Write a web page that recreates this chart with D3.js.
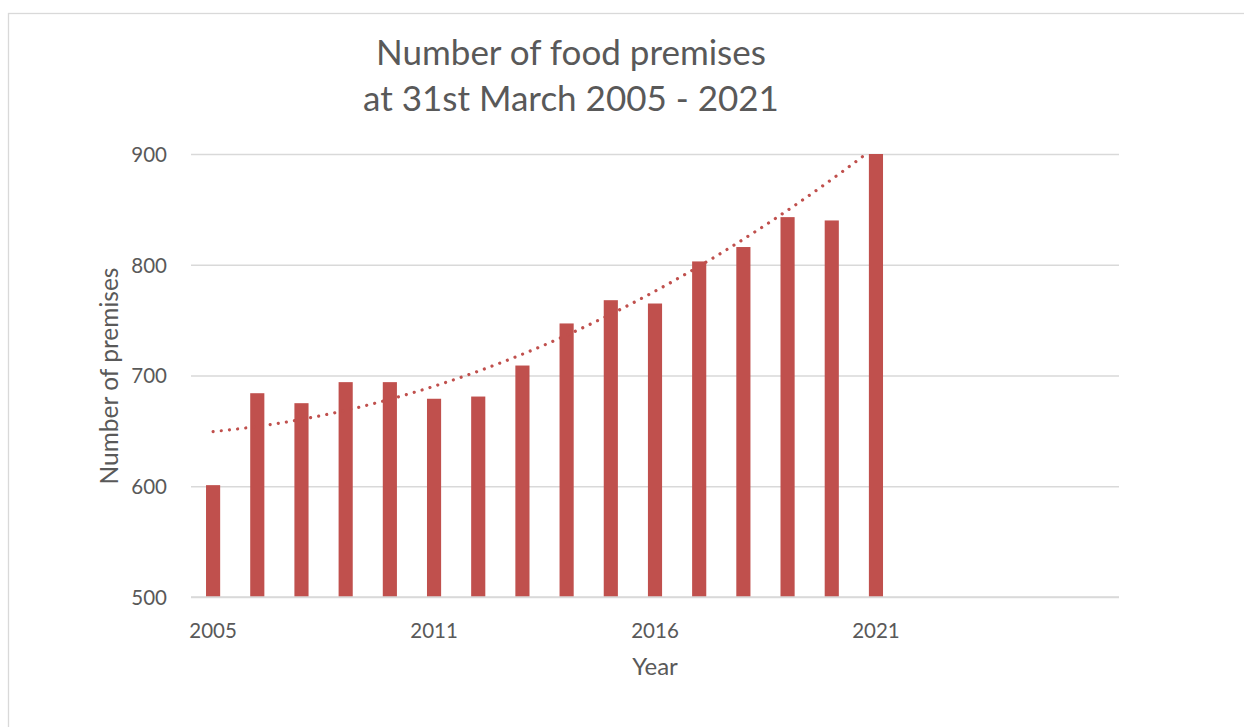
<!DOCTYPE html>
<html>
<head>
<meta charset="utf-8">
<script src="https://cdn.jsdelivr.net/npm/d3@7"></script>
<style>
  html, body { margin: 0; padding: 0; background: #fff; }
  svg { display: block; }
  text { font-family: Lato, "Open Sans", sans-serif; fill: #595959; }
</style>
</head>
<body>
<svg id="chart" width="1244" height="727"></svg>
<script>
// ---- data ----
const categories = ["2005","2006","2007","2008","2009","2011","2012","2013","2014","2015","2016","2017","2018","2019","2020","2021"];
const emptyCategories = ["e1","e2","e3","e4","e5"];
const premises = [601, 684, 675, 694, 694, 679, 681, 709, 747, 768, 765, 803, 816, 843, 840, 948];
const yTicks = [500, 600, 700, 800, 900];
const xTickLabels = ["2005", "2011", "2016", "2021"];
const titleLines = ["Number of food premises", "at 31st March 2005 - 2021"];

// ---- layout ----
const W = 1244, H = 727;
const plot = { left: 191, right: 1119, top: 154, bottom: 597 };
const barColor = "#C0504D";

const svg = d3.select("#chart");

// chart border (left/top visible, runs off the image right/bottom)
svg.append("rect")
  .attr("x", 8.5).attr("y", 13.5)
  .attr("width", W + 20).attr("height", H + 20)
  .attr("fill", "#fff").attr("stroke", "#d9d9d9").attr("stroke-width", 1.3);

const allCats = categories.concat(emptyCategories);
const x = d3.scaleBand().domain(allCats).range([plot.left, plot.right])
  .paddingInner(0.68).paddingOuter(0.34);
const y = d3.scaleLinear().domain([500, 900]).range([plot.bottom, plot.top]);

// gridlines
const yAxis = d3.axisLeft(y).tickValues(yTicks).tickSize(-(plot.right - plot.left)).tickPadding(24);
const gy = svg.append("g").attr("transform", `translate(${plot.left},0)`).call(yAxis);
gy.select(".domain").remove();
gy.selectAll(".tick line").attr("stroke", "#d9d9d9").attr("stroke-width", 1.4);
gy.selectAll(".tick text").attr("font-size", 20.5).attr("fill", "#595959")
  .attr("font-family", "Lato, sans-serif").attr("dy", "0.36em").attr("x", -(plot.left - 167));

// clip
svg.append("clipPath").attr("id", "plotclip").append("rect")
  .attr("x", plot.left).attr("y", plot.top)
  .attr("width", plot.right - plot.left).attr("height", plot.bottom - plot.top);

const data = categories.map((c, i) => ({ c, v: premises[i] }));

svg.append("g").attr("clip-path", "url(#plotclip)")
  .selectAll("rect").data(data).join("rect")
  .attr("x", d => x(d.c)).attr("width", x.bandwidth())
  .attr("y", d => y(d.v)).attr("height", d => y(500) - y(d.v))
  .attr("fill", barColor);

// x axis
const xAxis = d3.axisBottom(x).tickSize(0).tickPadding(26)
  .tickValues(xTickLabels).tickFormat(d => d);
const gx = svg.append("g").attr("transform", `translate(0,${plot.bottom})`).call(xAxis);
gx.select(".domain").attr("stroke", "#d9d9d9").attr("stroke-width", 1.4)
  .attr("d", `M${plot.left},0H${plot.right}`);
gx.selectAll(".tick text").attr("font-size", 20.5).attr("fill", "#595959")
  .attr("font-family", "Lato, sans-serif").attr("dy", "0.72em");

// polynomial (order 2) trendline, least squares over category index
const n = premises.length;
const xs = d3.range(n);
let S = [0,0,0,0,0], T = [0,0,0];
xs.forEach((xi, i) => {
  for (let k = 0; k < 5; k++) S[k] += Math.pow(xi, k);
  for (let k = 0; k < 3; k++) T[k] += Math.pow(xi, k) * premises[i];
});
function solve3(A, b) {
  const M = A.map((r, i) => r.concat([b[i]]));
  for (let i = 0; i < 3; i++) {
    let p = i;
    for (let r = i + 1; r < 3; r++) if (Math.abs(M[r][i]) > Math.abs(M[p][i])) p = r;
    [M[i], M[p]] = [M[p], M[i]];
    for (let r = 0; r < 3; r++) if (r !== i) {
      const f = M[r][i] / M[i][i];
      for (let c = i; c < 4; c++) M[r][c] -= f * M[i][c];
    }
  }
  return M.map((r, i) => r[3] / r[i]);
}
const coef = solve3([[S[0],S[1],S[2]],[S[1],S[2],S[3]],[S[2],S[3],S[4]]], T);
const fitAt = t => coef[0] + coef[1]*t + coef[2]*t*t;
const step = x.step();
const cx = t => x(categories[0]) + x.bandwidth()/2 + t * step;
const samples = d3.range(0, n - 1 + 1e-9, 0.05);
const line = d3.line().x(t => cx(t)).y(t => y(fitAt(t))).curve(d3.curveLinear);
svg.append("g").attr("clip-path", "url(#plotclip)")
  .append("path").datum(samples).attr("d", line)
  .attr("fill", "none").attr("stroke", barColor)
  .attr("stroke-width", 3.2).attr("stroke-linecap", "round")
  .attr("stroke-dasharray", "0.01 8.2");

// titles
svg.append("text").attr("x", 571).attr("y", 65).attr("text-anchor", "middle")
  .attr("font-size", 35).text(titleLines[0]);
svg.append("text").attr("x", 571).attr("y", 111).attr("text-anchor", "middle")
  .attr("font-size", 35).text(titleLines[1]);

svg.append("text").attr("x", 655).attr("y", 675).attr("text-anchor", "middle")
  .attr("font-size", 24).text("Year");

svg.append("text").attr("transform", "translate(118,376) rotate(-90)")
  .attr("text-anchor", "middle").attr("font-size", 24.5).text("Number of premises");
</script>
</body>
</html>
